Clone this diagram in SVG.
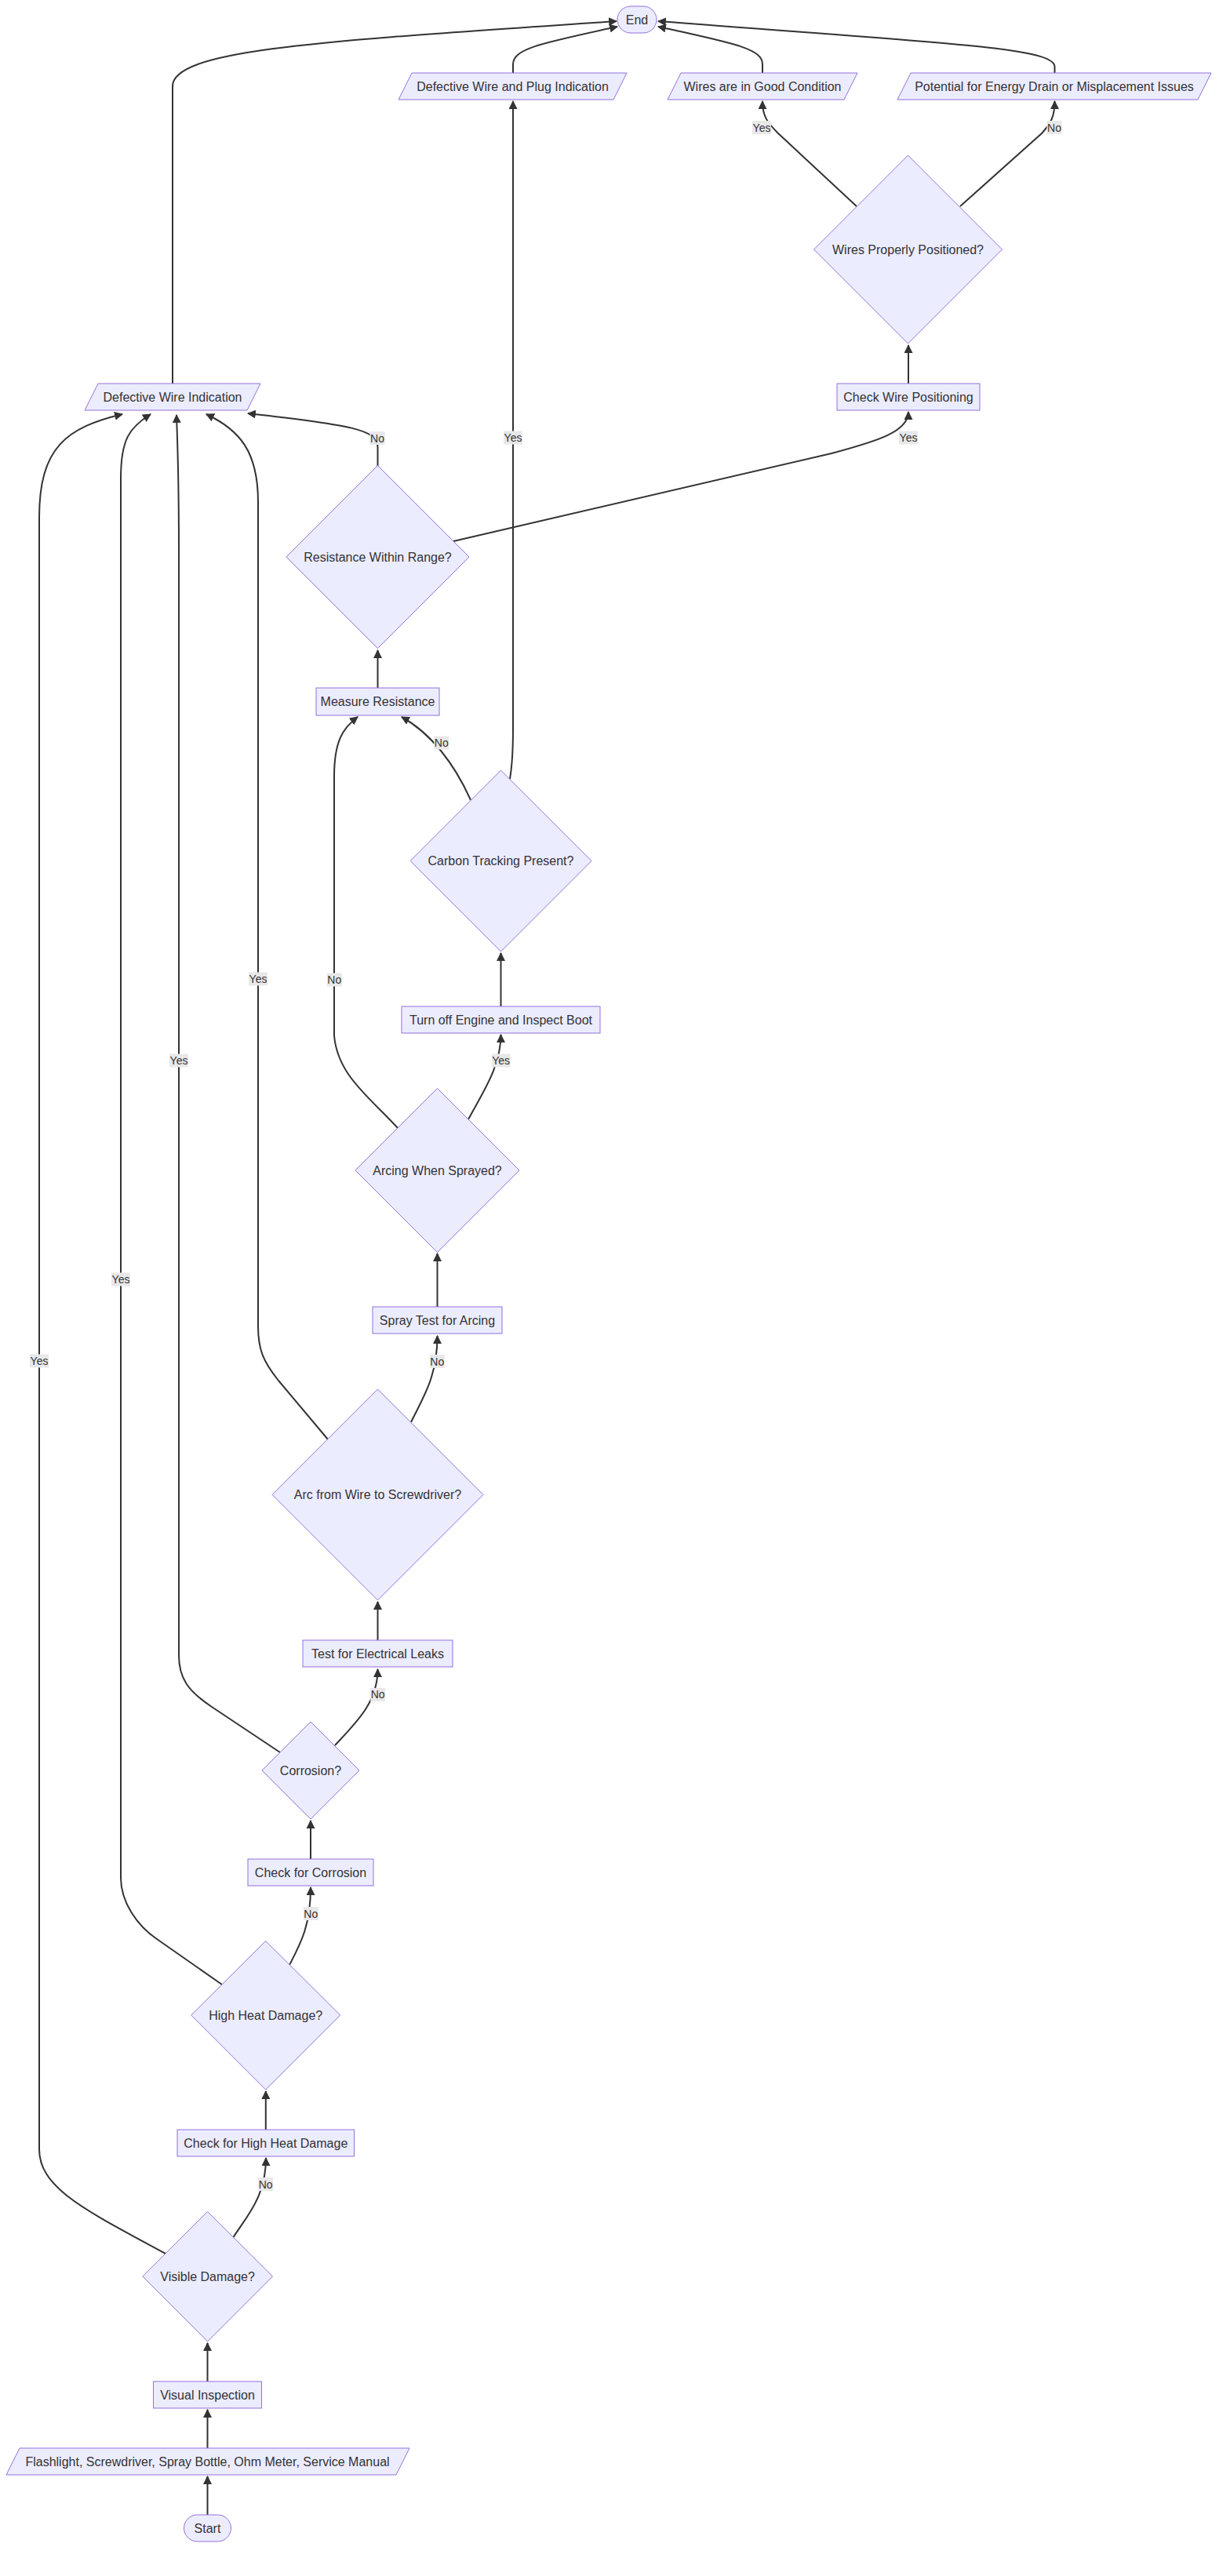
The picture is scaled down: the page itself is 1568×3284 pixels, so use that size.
<svg xmlns="http://www.w3.org/2000/svg" width="1568" height="3284" viewBox="0 0 1568 3284">
<style>
.shape{fill:#ECECFF;stroke:#9370DB;stroke-width:1}
.lbl{font-family:"Liberation Sans",Arial,sans-serif;font-size:16px;fill:#333;text-anchor:middle;dominant-baseline:central}
.edge{fill:none;stroke:#333;stroke-width:2;marker-end:url(#arrow)}
.ebg{fill:#e8e8e8}
.elbl{font-family:"Liberation Sans",Arial,sans-serif;font-size:14px;fill:#333;text-anchor:middle;dominant-baseline:central}
</style>
<defs>
<marker id="arrow" viewBox="0 0 10 10" refX="9" refY="5" markerUnits="userSpaceOnUse" markerWidth="11" markerHeight="11" orient="auto">
<path d="M0,0 L10,5 L0,10 z" fill="#333"/>
</marker>
</defs>
<rect width="1568" height="3284" fill="#ffffff"/>
<g id="connectors">
<path class="edge" d="M264.5,3206 L264.5,3157"/>
<path class="edge" d="M264.5,3121 L264.5,3072"/>
<path class="edge" d="M264.5,3036 L264.5,2987"/>
<path class="edge" d="M297.5,2852 C315,2825 339,2800 339,2751"/>
<path class="edge" d="M211,2873 C110,2818 50,2790 50,2740 L50,660 C50,570 85,545 156,528"/>
<path class="edge" d="M338.8,2715 L338.8,2666"/>
<path class="edge" d="M369,2505 C383,2478 396,2455 396,2406"/>
<path class="edge" d="M283,2530 L200,2472 C175,2455 154,2425 154,2394 L154,610 C154,560 165,545 192,528"/>
<path class="edge" d="M396,2370 L396,2321"/>
<path class="edge" d="M427,2225 C455,2195 481.5,2170 481.5,2128"/>
<path class="edge" d="M357,2234 L270,2176 C240,2156 228,2140 228,2110 L228,700 C228,600 226,560 225,529"/>
<path class="edge" d="M481.5,2091 L481.5,2042"/>
<path class="edge" d="M524,1813 C540,1780 557.5,1755 557.5,1703"/>
<path class="edge" d="M418,1835 L355,1760 C335,1735 329,1720 329,1690 L329,640 C329,575 305,548 263,528"/>
<path class="edge" d="M557.5,1666 L557.5,1598"/>
<path class="edge" d="M597,1427 C615,1393 638.5,1360 638.5,1319"/>
<path class="edge" d="M507,1438 C470,1398 430,1370 426,1320 L426,990 C426,945 437,928 456,914"/>
<path class="edge" d="M638.5,1283 L638.5,1215"/>
<path class="edge" d="M600,1020 C580,975 550,935 512,914"/>
<path class="edge" d="M650,993 C653,975 654,960 654,930 L654,129"/>
<path class="edge" d="M481.5,877 L481.5,829"/>
<path class="edge" d="M481.5,594 L481.5,570 C481.5,548 450,542 316,527"/>
<path class="edge" d="M578,690 L1060,578 C1120,562 1158,550 1158,525"/>
<path class="edge" d="M1158,489 L1158,440"/>
<path class="edge" d="M1092,263 L992,170 C978,156 972,148 972,129"/>
<path class="edge" d="M1224,263 L1328,170 C1340,157 1344.5,148 1344.5,129"/>
<path class="edge" d="M220,489 L220,110 C220,62 420,52 786,27"/>
<path class="edge" d="M654,93 L654,82 C654,62 690,55 787,34"/>
<path class="edge" d="M972,93 L972,82 C972,62 935,55 839,34"/>
<path class="edge" d="M1344.5,93 L1344.5,85 C1344.5,60 1200,55 839,27"/>
</g>
<g id="edge-labels">
<g><rect class="ebg" x="959" y="154" width="24" height="17"/><text class="elbl" x="971" y="162.6">Yes</text></g>
<g><rect class="ebg" x="1334.5" y="154" width="19" height="17"/><text class="elbl" x="1344" y="162.6">No</text></g>
<g><rect class="ebg" x="1146" y="549.5" width="24" height="17"/><text class="elbl" x="1158" y="558">Yes</text></g>
<g><rect class="ebg" x="471.5" y="550" width="19" height="17"/><text class="elbl" x="481" y="558.5">No</text></g>
<g><rect class="ebg" x="642" y="549.5" width="24" height="17"/><text class="elbl" x="654" y="558">Yes</text></g>
<g><rect class="ebg" x="553.3" y="938.5" width="19" height="17"/><text class="elbl" x="562.8" y="947">No</text></g>
<g><rect class="ebg" x="626.7" y="1343.5" width="24" height="17"/><text class="elbl" x="638.7" y="1352">Yes</text></g>
<g><rect class="ebg" x="416.8" y="1240.5" width="19" height="17"/><text class="elbl" x="426.3" y="1249">No</text></g>
<g><rect class="ebg" x="547.8" y="1727" width="19" height="17"/><text class="elbl" x="557.3" y="1735.6">No</text></g>
<g><rect class="ebg" x="317" y="1239.5" width="24" height="17"/><text class="elbl" x="329" y="1248">Yes</text></g>
<g><rect class="ebg" x="472.2" y="2152" width="19" height="17"/><text class="elbl" x="481.7" y="2160.4">No</text></g>
<g><rect class="ebg" x="216" y="1343.5" width="24" height="17"/><text class="elbl" x="228" y="1352">Yes</text></g>
<g><rect class="ebg" x="386.8" y="2431" width="19" height="17"/><text class="elbl" x="396.3" y="2439.7">No</text></g>
<g><rect class="ebg" x="142" y="1622.5" width="24" height="17"/><text class="elbl" x="154" y="1631">Yes</text></g>
<g><rect class="ebg" x="329.1" y="2776" width="19" height="17"/><text class="elbl" x="338.6" y="2784.5">No</text></g>
<g><rect class="ebg" x="38" y="1726.5" width="24" height="17"/><text class="elbl" x="50" y="1735">Yes</text></g>
</g>
<g id="node-end"><rect class="shape" x="787" y="8" width="50" height="34" rx="17" ry="17"/><text class="lbl" x="812" y="25">End</text></g>
<g id="node-plug"><polygon class="shape" points="508,127 782,127 799,93 525,93"/><text class="lbl" x="653.5" y="110">Defective Wire and Plug Indication</text></g>
<g id="node-good"><polygon class="shape" points="851,127 1076,127 1093,93 868,93"/><text class="lbl" x="972" y="110">Wires are in Good Condition</text></g>
<g id="node-potential"><polygon class="shape" points="1144,127 1527,127 1544,93 1161,93"/><text class="lbl" x="1344" y="110">Potential for Energy Drain or Misplacement Issues</text></g>
<g id="node-positioned"><polygon class="shape" points="1157.5,198 1277.5,318 1157.5,438 1037.5,318"/><text class="lbl" x="1157.5" y="318">Wires Properly Positioned?</text></g>
<g id="node-checkwire"><rect class="shape" x="1067" y="489" width="182" height="34"/><text class="lbl" x="1158" y="506">Check Wire Positioning</text></g>
<g id="node-defective"><polygon class="shape" points="108,523 315,523 332,489 125,489"/><text class="lbl" x="220" y="506">Defective Wire Indication</text></g>
<g id="node-resrange"><polygon class="shape" points="481.5,593.5 598,710 481.5,826.5 365,710"/><text class="lbl" x="481.5" y="710">Resistance Within Range?</text></g>
<g id="node-measure"><rect class="shape" x="403" y="877" width="157" height="35"/><text class="lbl" x="481.5" y="894.5">Measure Resistance</text></g>
<g id="node-carbon"><polygon class="shape" points="638.5,982 754,1097.5 638.5,1213 523,1097.5"/><text class="lbl" x="638.5" y="1097.5">Carbon Tracking Present?</text></g>
<g id="node-turnoff"><rect class="shape" x="512" y="1283" width="253" height="34"/><text class="lbl" x="638.5" y="1300">Turn off Engine and Inspect Boot</text></g>
<g id="node-arcing"><polygon class="shape" points="557.5,1387.5 662,1492 557.5,1596.5 453,1492"/><text class="lbl" x="557.5" y="1492">Arcing When Sprayed?</text></g>
<g id="node-spray"><rect class="shape" x="475" y="1666" width="165" height="34"/><text class="lbl" x="557.5" y="1683">Spray Test for Arcing</text></g>
<g id="node-arc"><polygon class="shape" points="481.5,1771 616,1905.5 481.5,2040 347,1905.5"/><text class="lbl" x="481.5" y="1905.5">Arc from Wire to Screwdriver?</text></g>
<g id="node-leaks"><rect class="shape" x="386" y="2091" width="191" height="34"/><text class="lbl" x="481.5" y="2108">Test for Electrical Leaks</text></g>
<g id="node-corrosion"><polygon class="shape" points="396,2195 458,2257 396,2319 334,2257"/><text class="lbl" x="396" y="2257">Corrosion?</text></g>
<g id="node-checkcorrosion"><rect class="shape" x="316" y="2370" width="160" height="34"/><text class="lbl" x="396" y="2387">Check for Corrosion</text></g>
<g id="node-heat"><polygon class="shape" points="338.7,2474.5 433.7,2569 338.7,2664 243.7,2569"/><text class="lbl" x="338.7" y="2569">High Heat Damage?</text></g>
<g id="node-checkheat"><rect class="shape" x="226" y="2715" width="225.5" height="34"/><text class="lbl" x="338.8" y="2732">Check for High Heat Damage</text></g>
<g id="node-visible"><polygon class="shape" points="264.6,2819.5 347.5,2902 264.6,2985 181.8,2902"/><text class="lbl" x="264.6" y="2902">Visible Damage?</text></g>
<g id="node-visual"><rect class="shape" x="195.5" y="3036" width="138" height="34"/><text class="lbl" x="264.5" y="3053">Visual Inspection</text></g>
<g id="node-tools"><polygon class="shape" points="8,3155 505,3155 522,3121 25,3121"/><text class="lbl" x="264.5" y="3138">Flashlight, Screwdriver, Spray Bottle, Ohm Meter, Service Manual</text></g>
<g id="node-start"><rect class="shape" x="234.5" y="3206" width="60" height="34" rx="17" ry="17"/><text class="lbl" x="264.5" y="3223">Start</text></g>
</svg>
